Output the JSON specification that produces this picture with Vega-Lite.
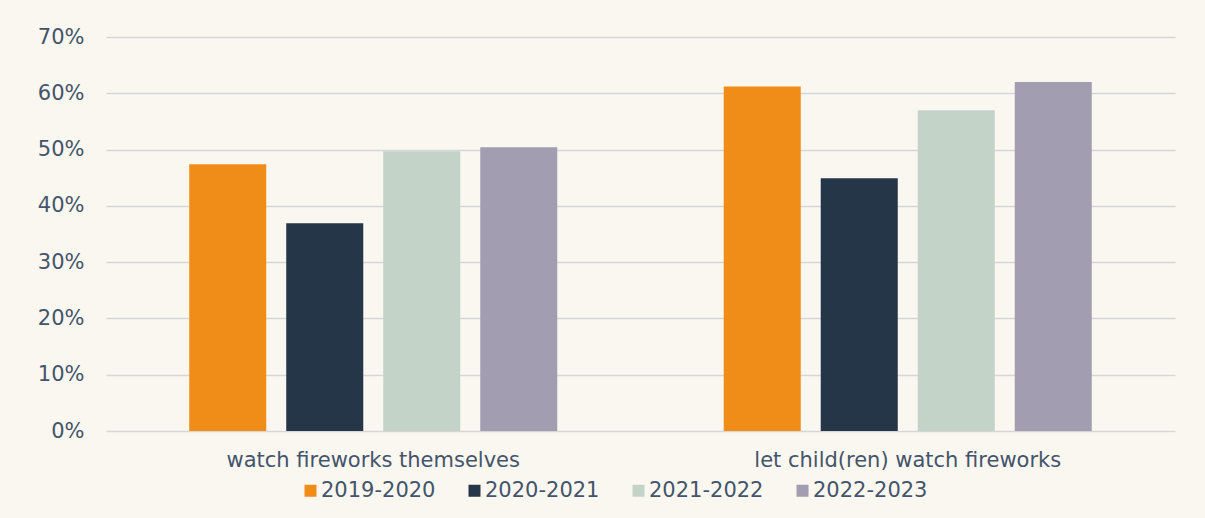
{
  "$schema": "https://vega.github.io/schema/vega-lite/v6.json",
  "width": 1069,
  "height": 394,
  "autosize": {"type": "none"},
  "padding": {"left": 106, "top": 37, "right": 30, "bottom": 87},
  "background": "#faf7f0",
  "data": {
    "values": [
      {"Group": "watch fireworks themselves", "Season": "2019-2020", "Share": 0.474},
      {"Group": "watch fireworks themselves", "Season": "2020-2021", "Share": 0.369},
      {"Group": "watch fireworks themselves", "Season": "2021-2022", "Share": 0.497},
      {"Group": "watch fireworks themselves", "Season": "2022-2023", "Share": 0.504},
      {"Group": "let child(ren) watch fireworks", "Season": "2019-2020", "Share": 0.612},
      {"Group": "let child(ren) watch fireworks", "Season": "2020-2021", "Share": 0.449},
      {"Group": "let child(ren) watch fireworks", "Season": "2021-2022", "Share": 0.570},
      {"Group": "let child(ren) watch fireworks", "Season": "2022-2023", "Share": 0.620}
    ]
  },
  "mark": {"type": "bar"},
  "encoding": {
    "x": {
      "field": "Group",
      "type": "nominal",
      "sort": null,
      "title": null,
      "scale": {"paddingInner": 0, "paddingOuter": 0},
      "axis": {
        "grid": false,
        "domain": false,
        "ticks": false,
        "tickSize": 0,
        "labelLimit": 0,
        "labelPadding": 18,
        "labelAngle": 0,
        "labelFont": "DejaVu Sans",
        "labelFontSize": 21,
        "labelColor": "#44546a"
      }
    },
    "xOffset": {
      "field": "Season",
      "type": "nominal",
      "scale": {"paddingInner": 0.206, "paddingOuter": 0.858}
    },
    "y": {
      "field": "Share",
      "type": "quantitative",
      "title": null,
      "scale": {"domain": [0, 0.7], "nice": false},
      "axis": {
        "grid": true,
        "values": [0, 0.1, 0.2, 0.3, 0.4, 0.5, 0.6, 0.7],
        "format": ".0%",
        "domain": false,
        "ticks": false,
        "tickSize": 0,
        "labelPadding": 22,
        "labelFont": "DejaVu Sans",
        "labelFontSize": 21,
        "labelColor": "#44546a",
        "gridColor": "#d6d6d6",
        "gridWidth": 1.5
      }
    },
    "color": {
      "field": "Season",
      "type": "nominal",
      "title": null,
      "scale": {
        "domain": ["2019-2020", "2020-2021", "2021-2022", "2022-2023"],
        "range": ["#f08c18", "#253649", "#c3d3c8", "#a29db1"]
      },
      "legend": {
        "orient": "none",
        "direction": "horizontal",
        "legendX": 194,
        "legendY": 443,
        "padding": 0,
        "symbolType": "square",
        "symbolSize": 144,
        "symbolStrokeWidth": 0,
        "symbolOpacity": 1,
        "labelOffset": 0,
        "columnPadding": 28,
        "labelFont": "DejaVu Sans",
        "labelFontSize": 21,
        "labelColor": "#44546a"
      }
    }
  },
  "config": {
    "view": {"stroke": null}
  }
}
